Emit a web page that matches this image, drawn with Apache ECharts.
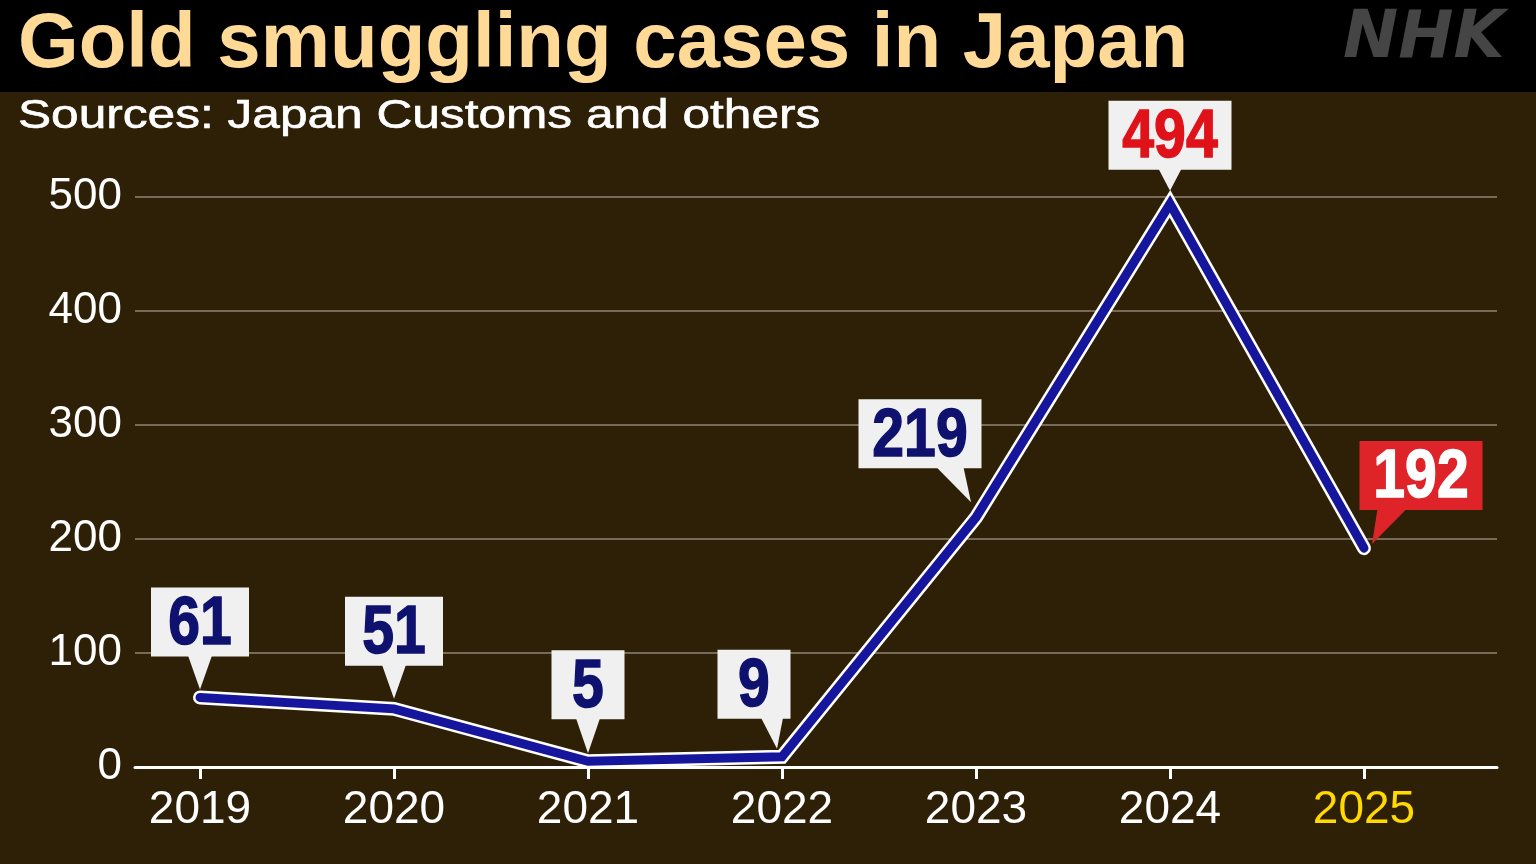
<!DOCTYPE html>
<html>
<head>
<meta charset="utf-8">
<title>Gold smuggling cases in Japan</title>
<script src="https://cdn.jsdelivr.net/npm/echarts@6/dist/echarts.min.js"></script>
<style>
  html, body { margin: 0; padding: 0; background: #2e2007; }
  #chart { width: 1536px; height: 864px; }
</style>
</head>
<body>
<div id="chart"></div>
<script>
// data
var years = [2019, 2020, 2021, 2022, 2023, 2024, 2025];
var cases = [61, 51, 5, 9, 219, 494, 192];
var yTicks = [0, 100, 200, 300, 400, 500];

// callout box placement relative to its point (pixels)
var calloutLayout = [
  { dx: 0,     lift: 41, baseDx: 0,   baseW: 24, tipDx: 0,  tipDy: -8 },
  { dx: 0,     lift: 43, baseDx: 0,   baseW: 24, tipDx: 0,  tipDy: -10 },
  { dx: 0,     lift: 42, baseDx: 0,   baseW: 24, tipDx: 0,  tipDy: -8 },
  { dx: -28,   lift: 38, baseDx: -10, baseW: 22, tipDx: -5, tipDy: -8 },
  { dx: -56,   lift: 49, baseDx: -26, baseW: 27, tipDx: -5, tipDy: -15 },
  { dx: 0,     lift: 34, baseDx: 0,   baseW: 23, tipDx: 0,  tipDy: -13 },
  { dx: 57,    lift: 38, baseDx: 28,  baseW: 29, tipDx: 8,  tipDy: -4 }
];
var themeNormal = { bg: '#f0f0f0', fg: '#0e116e' };
var themePeak   = { bg: '#f0f0f0', fg: '#e01219' };
var themeLatest = { bg: '#de2428', fg: '#ffffff' };
function calloutTheme(year) {
  if (year === 2024) return themePeak;
  if (year === 2025) return themeLatest;
  return themeNormal;
}

var points = years.map(function (y, i) { return [y, cases[i]]; });

var chart = echarts.init(document.getElementById('chart'));

var option = {
  animation: false,
  backgroundColor: '#2e2007',
  grid: { left: 135, right: 39, top: 197, bottom: 97, containLabel: false },
  xAxis: {
    type: 'value',
    min: 2019 - 65 / 194,
    max: 2025 + 133 / 194,
    splitLine: { show: false },
    axisLine: { show: true, onZero: false, lineStyle: { color: '#ffffff', width: 3 } },
    axisTick: { show: true, customValues: years, length: 12, lineStyle: { color: '#ffffff', width: 3 } },
    axisLabel: {
      customValues: years,
      margin: 20,
      fontSize: 46,
      fontFamily: '"Liberation Sans", Arial, sans-serif',
      color: function (value) { return Number(value) === 2025 ? '#ffd900' : '#ffffff'; },
      formatter: function (v) { return String(v); }
    }
  },
  yAxis: {
    type: 'value',
    min: 0,
    max: 500,
    interval: 100,
    axisLine: { show: false },
    axisTick: { show: false },
    splitLine: { lineStyle: { color: '#756b58', width: 2 } },
    axisLabel: {
      margin: 13,
      fontSize: 44,
      fontFamily: '"Liberation Sans", Arial, sans-serif',
      color: '#ffffff',
      customValues: yTicks
    }
  },
  graphic: [
    { type: 'rect', left: 0, top: 0, shape: { width: 1536, height: 92 }, style: { fill: '#000000' }, z: -1 },
    {
      type: 'text', x: 18, y: 45,
      style: {
        text: 'Gold smuggling cases in Japan',
        font: 'bold 78px "Liberation Sans", Arial, sans-serif',
        fill: '#ffd996', verticalAlign: 'middle'
      }
    },
    {
      type: 'text', x: 1343, y: 40,
      style: {
        text: 'NHK',
        font: 'italic bold 66px "DejaVu Sans", sans-serif',
        fill: '#454545', verticalAlign: 'middle'
      }
    },
    {
      type: 'text', x: 18, y: 117, scaleX: 1.24,
      style: {
        text: 'Sources: Japan Customs and others',
        font: '40px "Liberation Sans", Arial, sans-serif',
        fill: '#ffffff', stroke: '#ffffff', lineWidth: 0.6, verticalAlign: 'middle'
      }
    }
  ],
  series: [
    {
      type: 'line',
      data: points,
      symbol: 'none',
      silent: true,
      lineStyle: { color: '#ffffff', width: 14, cap: 'round', join: 'miter' },
      z: 3
    },
    {
      type: 'line',
      data: points,
      symbol: 'none',
      silent: true,
      lineStyle: { color: '#16169c', width: 9, cap: 'round', join: 'miter' },
      z: 4
    },
    {
      type: 'custom',
      coordinateSystem: 'cartesian2d',
      data: points,
      encode: { x: 0, y: 1 },
      clip: false,
      z: 5,
      renderItem: function (params, api) {
        var i = params.dataIndex;
        var year = api.value(0);
        var p = api.coord([year, api.value(1)]);
        var L = calloutLayout[i];
        var th = calloutTheme(year);
        var label = String(cases[i]);
        var w = 48 + 25 * label.length;
        var h = 69;
        var cx = p[0] + L.dx;
        var bottom = p[1] - L.lift;
        var bx = p[0] + L.baseDx;
        return {
          type: 'group',
          children: [
            {
              type: 'polygon',
              shape: { points: [[bx - L.baseW / 2, bottom - 1], [bx + L.baseW / 2, bottom - 1], [p[0] + L.tipDx, p[1] + L.tipDy]] },
              style: { fill: th.bg }
            },
            {
              type: 'rect',
              shape: { x: cx - w / 2, y: bottom - h, width: w, height: h },
              style: { fill: th.bg }
            },
            {
              type: 'text',
              x: cx, y: bottom - h / 2 + 3,
              scaleX: 0.84,
              style: {
                text: label,
                font: 'bold 68px "Liberation Sans", Arial, sans-serif',
                fill: th.fg, stroke: th.fg, lineWidth: 1.5,
                align: 'center', verticalAlign: 'middle'
              }
            }
          ]
        };
      }
    }
  ]
};

chart.setOption(option);
</script>
</body>
</html>
